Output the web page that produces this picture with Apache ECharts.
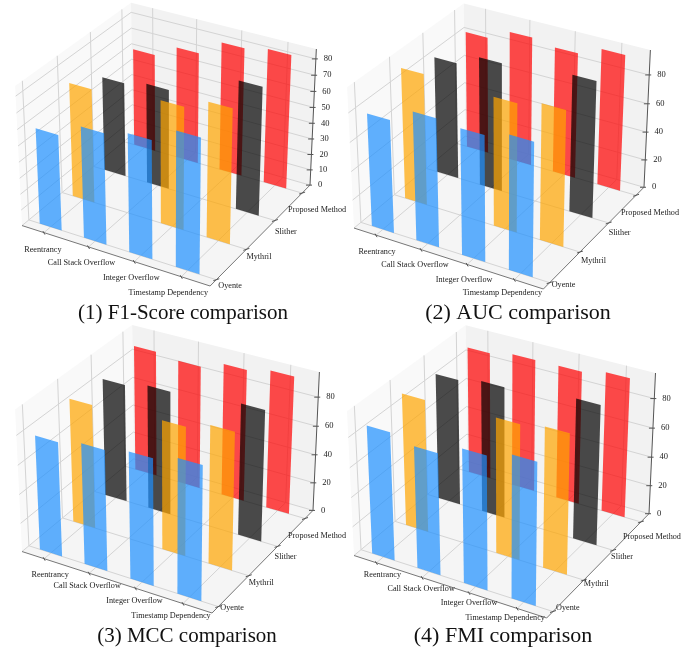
<!DOCTYPE html>
<html><head><meta charset="utf-8">
<style>html,body{margin:0;padding:0;background:#fff}#c{width:694px;height:652px;filter:blur(0.4px)}</style>
<script src="https://cdn.jsdelivr.net/npm/echarts@6/dist/echarts.min.js"></script>
</head><body><div id="c"></div>
<script>
// ---------- data ----------
const categories = ['Reentrancy','Call Stack Overflow','Integer Overflow','Timestamp Dependency'];
const methods = ['Oyente','Mythril','Slither','Proposed Method'];
const methodColors = ['#1e90ff','#ffa500','#000000','#ff0000'];
const titles = ['(1) F1-Score comparison','(2) AUC comparison','(3) MCC comparison','(4) FMI comparison'];
const zTicksF1 = [0,10,20,30,40,50,60,70,80];
const zTicksOther = [0,20,40,60,80];

const f1Oyente   = [59.5,68.5,72.6,82.2];
const f1Mythril  = [71.3,null,76.2,83.0];
const f1Slither  = [59.7,63.1,null,80.2];
const f1Proposed = [62.6,70.8,81.1,84.2];

const aucOyente   = [78.3,88.3,86.3,91.1];
const aucMythril  = [91.6,null,89.1,93.5];
const aucSlither  = [82.1,90.3,null,95.1];
const aucProposed = [83.5,91.5,88.7,95.7];

const mccOyente   = [78.5,82.3,85.9,90.7];
const mccMythril  = [85.8,null,88.5,94.0];
const mccSlither  = [82.4,86.1,null,90.7];
const mccProposed = [89.0,86.6,92.4,96.0];

const fmiOyente   = [86.4,81.7,89.2,94.4];
const fmiMythril  = [90.1,null,91.3,94.2];
const fmiSlither  = [86.6,89.9,null,95.0];
const fmiProposed = [88.3,91.7,91.9,95.6];

// ---------- layout ----------
const panels = [
 {values:[f1Oyente,f1Mythril,f1Slither,f1Proposed],zTicks:zTicksF1,zMax:86,left:[22,224],front:[206,286],right:[310,183],topY:49,titleX:183,titleY:313,titleSize:21,
  xNudge:[[-1,17],[-7,16],[-3,16],[-13,16]],yNudge:[[2,6],[0,8],[0,11],[-14,17]]},
 {values:[aucOyente,aucMythril,aucSlither,aucProposed],zTicks:zTicksOther,zMax:97,left:[354,228],front:[540,289],right:[644,185],topY:50,titleX:518,titleY:313,titleSize:22,
  xNudge:[[1,17],[-6,15],[-3,15],[-12,13]],yNudge:[[2,2],[1,9],[0,10],[-15,18]]},
 {values:[mccOyente,mccMythril,mccSlither,mccProposed],zTicks:zTicksOther,zMax:97,left:[22,551],front:[211,613],right:[313,508],topY:372,titleX:187,titleY:636,titleSize:21,
  xNudge:[[6,16],[-2,13],[-1,13],[-12,12]],yNudge:[[2,1],[0,7],[-3,10],[-17,17]]},
 {values:[fmiOyente,fmiMythril,fmiSlither,fmiProposed],zTicks:zTicksOther,zMax:97,left:[354,553],front:[542,618],right:[649,510],topY:373,titleX:503,titleY:636,titleSize:22,
  xNudge:[[6,12],[-1,11],[0,10],[-12,9]],yNudge:[[3,-4],[0,4],[-2,7],[-18,15]]}
];
const xLim=[-0.5,3.6], yLim=[-0.2,3.3], barW=0.5;

// 3D view (elev 30, azim -60, camera distance 10)
const el=30*Math.PI/180, az=-60*Math.PI/180, R=10;
const n=[Math.cos(el)*Math.cos(az),Math.cos(el)*Math.sin(az),Math.sin(el)];
const u=[-Math.sin(az),Math.cos(az),0];
const v=[-Math.sin(el)*Math.cos(az),-Math.sin(el)*Math.sin(az),Math.cos(el)];
const dot=(a,b)=>a[0]*b[0]+a[1]*b[1]+a[2]*b[2];
function proj(x,y,z,zMax){
  const p=[((x-xLim[0])/(xLim[1]-xLim[0])-.5)*1.19,((y-yLim[0])/(yLim[1]-yLim[0])-.5)*1.19,(z/zMax-.5)*0.893];
  const d=R-dot(p,n);
  return [dot(p,u)/d,dot(p,v)/d];
}

const grids=[],xAxes=[],yAxes=[],series=[],titleOpts=[];
const serif='"Liberation Serif","Times New Roman",serif';
panels.forEach((P,pi)=>{
  const Z=P.zMax;
  const pt=(x,y,z)=>proj(x,y,z,Z);
  const L=pt(xLim[0],yLim[0],0),Rr=pt(xLim[1],yLim[1],0),F=pt(xLim[1],yLim[0],0),T=pt(xLim[1],yLim[1],Z);
  grids.push({left:P.left[0],top:P.topY,width:P.right[0]-P.left[0],height:P.front[1]-P.topY});
  xAxes.push({type:'value',gridIndex:pi,min:L[0],max:Rr[0],show:false,scale:true});
  yAxes.push({type:'value',gridIndex:pi,min:F[1],max:T[1],show:false,scale:true});
  titleOpts.push({text:titles[pi],left:P.titleX,top:P.titleY,padding:0,textAlign:'center',textVerticalAlign:'middle',textStyle:{fontFamily:serif,fontSize:P.titleSize,fontWeight:'normal',color:'#111'}});
  const base={type:'custom',xAxisIndex:pi,yAxisIndex:pi,silent:true,clip:false,animation:false};
  // panes + grid
  series.push({...base,data:[0],z:1,renderItem:(params,api)=>{
    const c=(x,y,z)=>api.coord(pt(x,y,z));
    const kids=[];
    const poly=(pts,fill)=>kids.push({type:'polygon',shape:{points:pts},style:{fill}});
    const line=(a,b,col,w)=>kids.push({type:'line',shape:{x1:a[0],y1:a[1],x2:b[0],y2:b[1]},style:{stroke:col,lineWidth:w||1}});
    const [x0,x1]=xLim,[y0,y1]=yLim;
    poly([c(x0,y0,0),c(x1,y0,0),c(x1,y1,0),c(x0,y1,0)],'#f5f5f5');
    poly([c(x0,y0,0),c(x0,y1,0),c(x0,y1,Z),c(x0,y0,Z)],'#f9f9f9');
    poly([c(x0,y1,0),c(x1,y1,0),c(x1,y1,Z),c(x0,y1,Z)],'#f2f2f2');
    const g='#d4d4d4';
    categories.forEach((_,i)=>{line(c(i,y0,0),c(i,y1,0),g);line(c(i,y1,0),c(i,y1,Z),g);});
    methods.forEach((_,j)=>{line(c(x1,j,0),c(x0,j,0),g);line(c(x0,j,0),c(x0,j,Z),g);});
    P.zTicks.forEach(t=>{line(c(x0,y0,t),c(x0,y1,t),g);line(c(x0,y1,t),c(x1,y1,t),g);});
    return {type:'group',children:kids};
  }});
  // bars, farthest method first
  [3,2,1,0].forEach(j=>{
    const rows=P.values[j].map((val,i)=>[i,val]).filter(r=>r[1]!==null);
    series.push({...base,name:methods[j],z:2+(3-j),data:rows,renderItem:(params,api)=>{
      const i=api.value(0),val=api.value(1);
      const a=barW/2;
      const pts=[pt(i-a,j,0),pt(i+a,j,0),pt(i+a,j,val),pt(i-a,j,val)].map(q=>api.coord(q));
      return {type:'polygon',shape:{points:pts},style:{fill:methodColors[j],opacity:0.7}};
    }});
  });
  // axes + labels
  series.push({...base,data:[0],z:10,renderItem:(params,api)=>{
    const c=(x,y,z)=>api.coord(pt(x,y,z));
    const kids=[];
    const line=(a,b,col,w)=>kids.push({type:'line',shape:{x1:a[0],y1:a[1],x2:b[0],y2:b[1]},style:{stroke:col,lineWidth:w||1}});
    const txt=(s,p,align,fs)=>kids.push({type:'text',style:{text:s,x:p[0],y:p[1],align,verticalAlign:'middle',font:(fs||8.2)+'px '+serif,fill:'#222'}});
    const [x0,x1]=xLim,[y0,y1]=yLim, ax='#777';
    line(c(x0,y0,0),c(x1,y0,0),ax);
    line(c(x1,y0,0),c(x1,y1,0),ax);
    line(c(x1,y1,0),c(x1,y1,Z),'#555');
    categories.forEach((s,i)=>{
      const a=c(i,y0,0);
      line([a[0]-1,a[1]-1.5],[a[0]+1,a[1]+2],'#555');
      txt(s,[a[0]+P.xNudge[i][0],a[1]+P.xNudge[i][1]],'center');
    });
    methods.forEach((s,j)=>{
      const a=c(x1,j,0);
      line([a[0]-3,a[1]+1],[a[0]+3,a[1]-1],'#555');
      txt(s,[a[0]+P.yNudge[j][0],a[1]+P.yNudge[j][1]],'left');
    });
    P.zTicks.forEach(t=>{
      const a=c(x1,y1,t);
      line([a[0]-4,a[1]],[a[0]+2,a[1]],'#555');
      txt(String(t),[a[0]+8,a[1]],'left',8.5);
    });
    return {type:'group',children:kids};
  }});
});
const chart=echarts.init(document.getElementById('c'),null,{renderer:'canvas'});
chart.setOption({animation:false,backgroundColor:'#fff',title:titleOpts,grid:grids,xAxis:xAxes,yAxis:yAxes,series});
</script></body></html>
